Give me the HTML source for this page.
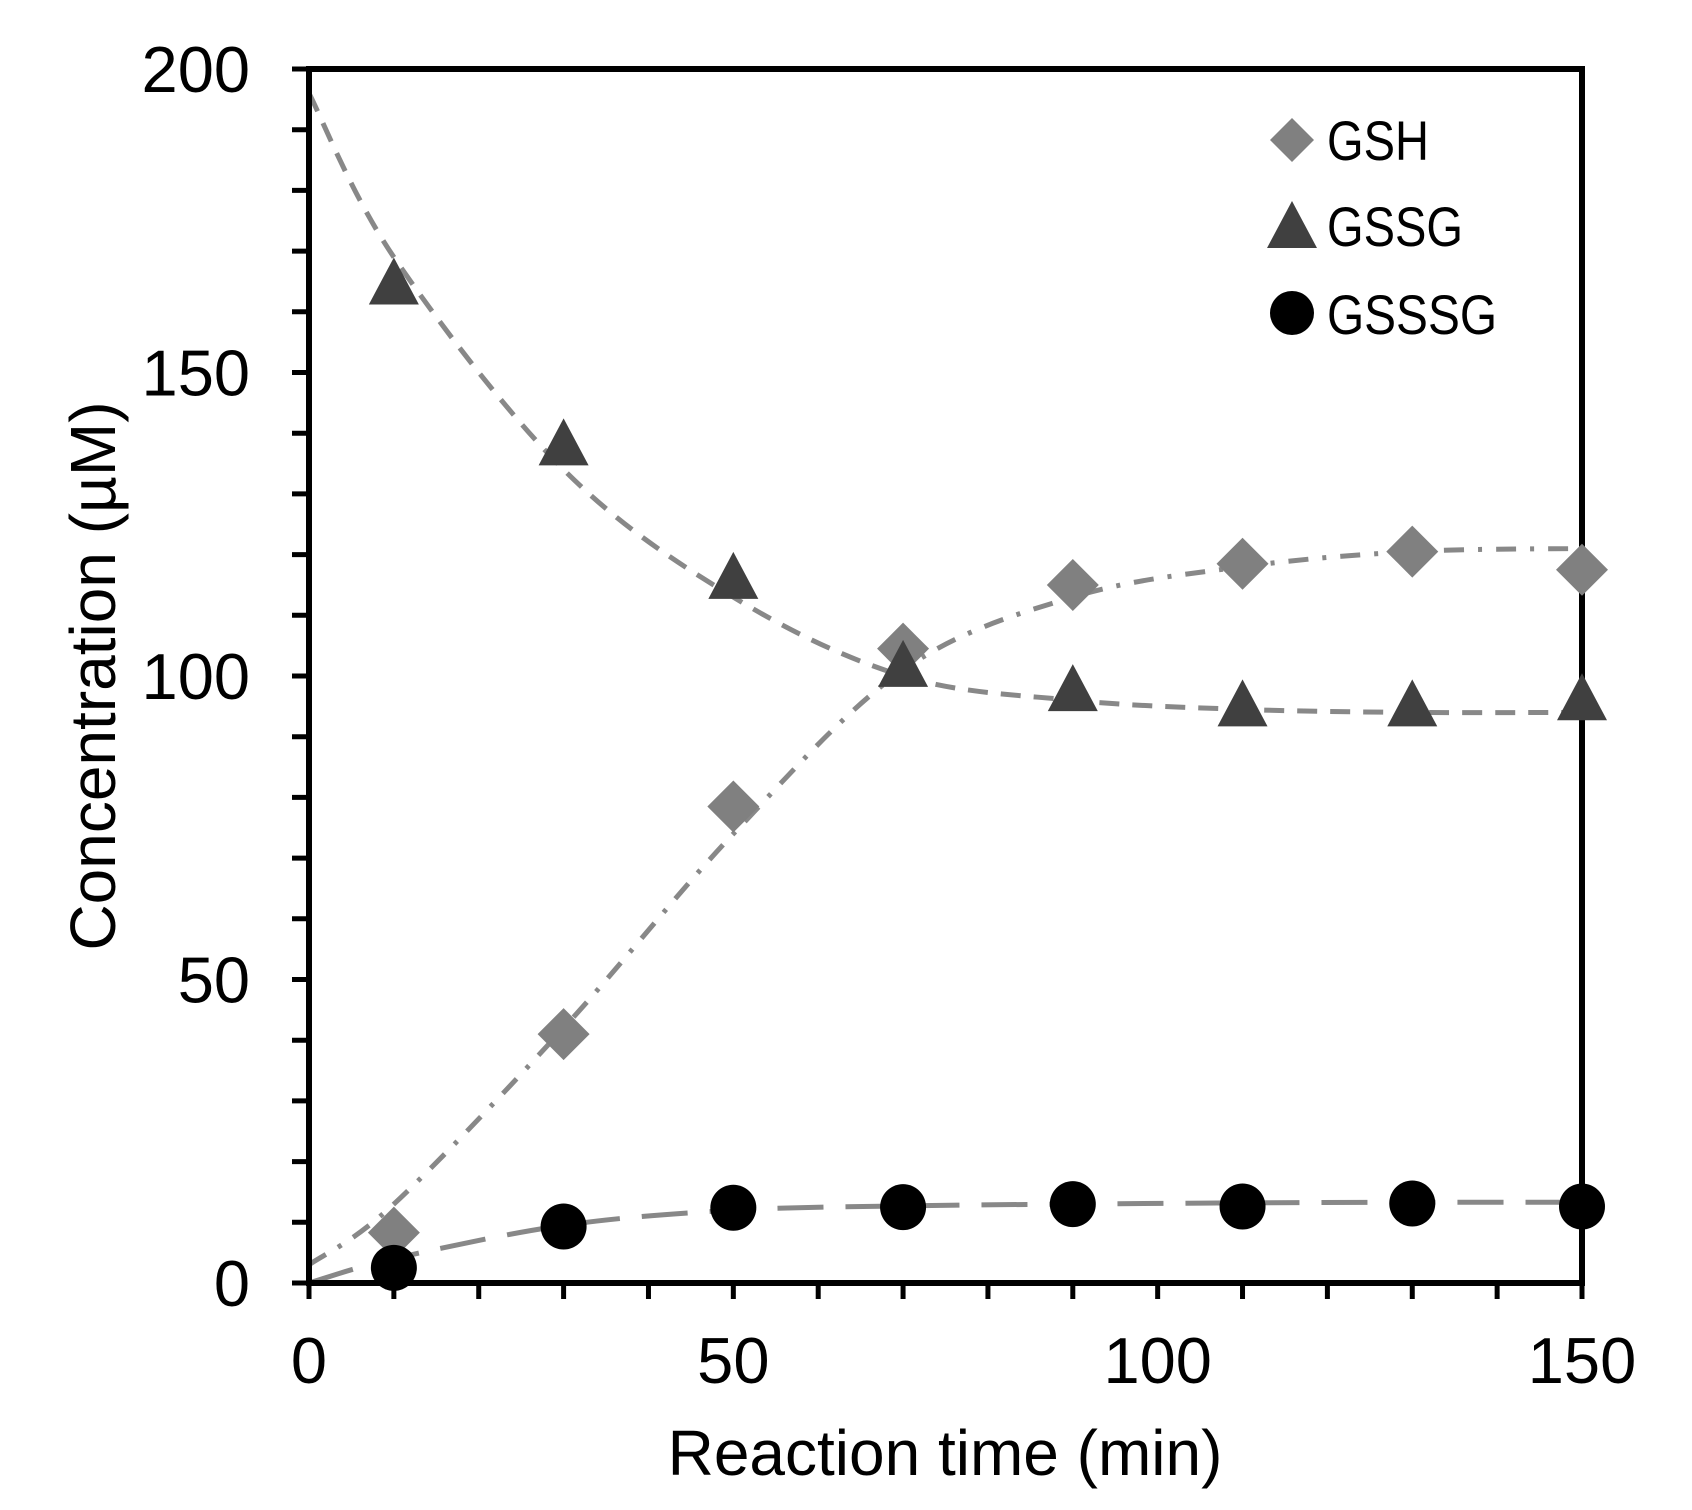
<!DOCTYPE html>
<html><head><meta charset="utf-8"><style>
html,body{margin:0;padding:0;background:#fff;}
svg{display:block;}
text{font-family:"Liberation Sans",sans-serif;fill:#000;}
</style></head><body>
<svg id="chart" width="1692" height="1510" viewBox="0 0 1692 1510"></svg>
<script>
const times=[10,30,50,70,90,110,130,150];
const gshValues=[8.3,41,78.5,104.5,115,118.5,120.5,117.5];
const gssgValues=[164.5,138,116,101.5,97.5,95,95,96];
const gssssgValues=[2.5,9.3,12.4,12.5,13,12.6,13.1,12.6];
const fitTimes=[0,10,30,50,70,90,110,130,150];
const gshFit=[3,13,42,74,101,113,118,120.5,121];
const gssgFit=[196,169,134,113,100,96,94.5,94,94];
const gssssgFit=[0,4,9.5,12,12.7,13,13.2,13.3,13.3];
const xTicks=[0,50,100,150];
const yTicks=[0,50,100,150,200];

const NS='http://www.w3.org/2000/svg';
const svg=document.getElementById('chart');
const X0=309,X1=1582,Y0=1283,Y1=69;
const sx=v=>X0+(v-0)/(150-0)*(X1-X0);
const sy=v=>Y0-(v-0)/(200-0)*(Y0-Y1);
function el(tag,attrs,parent){const e=document.createElementNS(NS,tag);for(const k in attrs)e.setAttribute(k,attrs[k]);(parent||svg).appendChild(e);return e;}

function spline(xs,ys){
  const p=xs.map((x,i)=>[sx(x),sy(ys[i])]);
  let d='M'+p[0][0]+','+p[0][1];
  for(let i=0;i<p.length-1;i++){
    const p0=p[Math.max(0,i-1)],p1=p[i],p2=p[i+1],p3=p[Math.min(p.length-1,i+2)];
    const c1=[p1[0]+(p2[0]-p0[0])/6,p1[1]+(p2[1]-p0[1])/6];
    const c2=[p2[0]-(p3[0]-p1[0])/6,p2[1]-(p3[1]-p1[1])/6];
    d+=' C'+c1[0]+','+c1[1]+' '+c2[0]+','+c2[1]+' '+p2[0]+','+p2[1];
  }
  return d;
}

let f;
f=el('path',{d:spline(fitTimes,gssgFit),fill:'none',stroke:'#888','stroke-width':5,'stroke-dasharray':'20 13'});


f=el('path',{d:spline(fitTimes,gshFit),fill:'none',stroke:'#888','stroke-width':5,'stroke-dasharray':'20 14 4 14'});


f=el('path',{d:spline(fitTimes,gssssgFit),fill:'none',stroke:'#888','stroke-width':5,'stroke-dasharray':'46 22'});



const ax=el('g',{});


el('rect',{x:X0,y:Y1,width:X1-X0,height:Y0-Y1,fill:'none',stroke:'#000','stroke-width':6},ax);
for(let v=0;v<=200;v+=10){
  const t=el('line',{x1:X0-17,x2:X0,y1:sy(v),y2:sy(v),stroke:'#000','stroke-width':5},ax);
  
  
}
for(let v=0;v<=150;v+=10){
  const t=el('line',{x1:sx(v),x2:sx(v),y1:Y0,y2:Y0+16,stroke:'#000','stroke-width':5},ax);
  
  
}
yTicks.forEach(v=>{
  const t=el('text',{x:250,y:sy(v)+23,'font-size':65,'text-anchor':'end'},ax);
  t.textContent=v;
  
  
});
xTicks.forEach(v=>{
  const t=el('text',{x:sx(v),y:1383,'font-size':65,'text-anchor':'middle'},ax);
  t.textContent=v;
  
  
});
let tt=el('text',{x:945,y:1475,'font-size':64,'text-anchor':'middle'});
tt.textContent='Reaction time (min)';


tt=el('text',{x:0,y:0,'font-size':64,'text-anchor':'middle',transform:'translate(115,676) rotate(-90)'});
tt.textContent='Concentration (µM)';



function diamond(cx,cy,r,g){return el('polygon',{points:`${cx},${cy-r} ${cx+r},${cy} ${cx},${cy+r} ${cx-r},${cy}`,fill:'#808080'},g);}
function tri(cx,cy,g){return el('polygon',{points:`${cx},${cy-27} ${cx+25},${cy+20} ${cx-25},${cy+20}`,fill:'#404040'},g);}
times.forEach((t,i)=>{
  const m=diamond(sx(t),sy(gshValues[i]),26);
  
  
});
times.forEach((t,i)=>{
  const m=tri(sx(t),sy(gssgValues[i]));
  
  
});
times.forEach((t,i)=>{
  const m=el('circle',{cx:sx(t),cy:sy(gssssgValues[i]),r:23,fill:'#000'});
  
  
});

const lg=el('g',{});


let m=diamond(1292,140,22,lg);


m=tri(1292,228,lg);


m=el('circle',{cx:1292,cy:313,r:22,fill:'#000'},lg);


[['GSH',160],['GSSG',246],['GSSSG',334]].forEach(([s,y])=>{
  const t=el('text',{x:1327,y:y,'font-size':56,'textLength':s.length*34,'lengthAdjust':'spacingAndGlyphs'},lg);
  t.textContent=s;
  
  
});
</script>
</body></html>
